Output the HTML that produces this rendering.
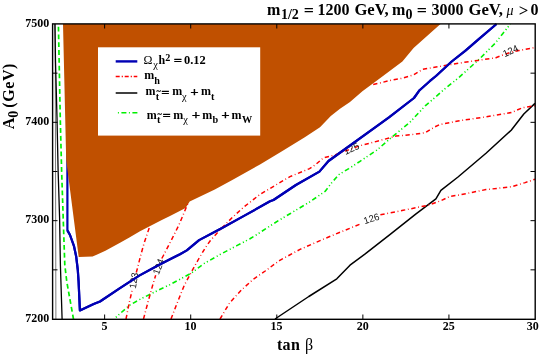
<!DOCTYPE html>
<html><head><meta charset="utf-8"><title>plot</title>
<style>
html,body{margin:0;padding:0;background:#fff;}
svg{display:block;will-change:transform;}
text{font-family:"Liberation Serif",serif;font-weight:bold;fill:#000;}
.n{font-weight:normal;}
.s{font-family:"Liberation Sans",sans-serif;font-weight:normal;font-size:9.6px;fill:#111;}
</style></head><body>
<svg width="540" height="357" viewBox="0 0 540 357">
<rect width="540" height="357" fill="#fff"/>
<!-- blue under brown -->
<path d="M67.4,150.0 L67.4,230.4 L70.0,235.0 L73.9,245.8 L76.2,256.6 L77.8,270.0 L78.6,281.8 L79.9,310.4 L93.7,304.0 L100.0,301.5 L119.6,288.3 L139.2,275.6 L158.8,265.0 L170.0,259.2 L180.0,254.2 L186.8,250.4 L199.1,240.1 L221.6,228.2 L244.0,215.9 L270.0,201.3 L273.5,200.0 L295.9,185.0 L319.4,171.6 L328.5,161.0 L380.0,123.9 L389.3,117.1 L414.0,98.0 L419.6,90.2 L429.7,81.2 L436.0,76.0 L451.7,61.5 L465.2,50.8 L477.9,39.9 L496.5,24.0" fill="none" stroke="#0000b4" stroke-width="2.2" stroke-linejoin="round"/>
<path d="M63.0,24.0 L440.5,24.0 L424.8,37.9 L413.6,48.0 L402.4,61.5 L380.0,78.3 L362.4,91.3 L350.0,102.0 L340.0,108.8 L330.8,115.9 L320.0,127.3 L304.8,137.3 L282.4,151.0 L260.0,164.4 L232.3,180.0 L214.8,189.4 L189.7,201.5 L185.6,207.9 L170.0,215.9 L161.8,220.0 L140.0,231.3 L129.4,237.6 L120.5,242.4 L105.4,250.8 L92.6,256.6 L78.7,257.0 L66.2,160.0Z" fill="#c05000"/>
<!-- legend box -->
<rect x="98.0" y="47.3" width="162.2" height="88.3" fill="#fff"/>
<!-- thin line near left -->
<path d="M55.2,24 L55.9,319" stroke="#444" stroke-width="0.7" fill="none"/>
<path d="M54.9,24.0 L55.5,62.0 L57.0,118.0 L58.1,170.0 L59.6,218.0 L60.4,265.0 L62.1,319.0" fill="none" stroke="#000" stroke-width="1.3"/>
<path d="M275.0,319.0 L308.8,296.5 L336.8,278.8 L350.0,265.2 L365.2,253.9 L390.5,234.2 L415.7,214.1 L435.9,198.9 L440.9,190.4 L458.0,177.0 L486.0,153.2 L511.2,130.2 L523.8,114.0 L535.0,103.4" fill="none" stroke="#000" stroke-width="1.5" stroke-linejoin="round"/>
<path d="M58.4,24.0 L60.3,120.0 L61.6,170.0 L63.2,218.0 L64.8,265.0 L66.8,281.8 L69.8,298.6 L73.5,319.0" fill="none" stroke="#00f000" stroke-width="1.7" stroke-dasharray="4.8 3.0" stroke-dashoffset="5.1"/>
<path d="M114.0,319.0 L129.4,305.3 L139.2,299.7 L158.8,289.9 L170.0,284.6 L180.0,279.3 L191.8,272.8 L203.6,263.8 L220.4,254.3 L237.3,245.4 L250.0,238.8 L259.7,232.7 L270.0,226.0 L279.4,220.0 L290.0,213.7 L309.6,202.0 L325.3,191.2 L331.2,183.3 L339.0,174.5 L348.8,168.6 L360.0,161.3 L377.0,150.0 L391.6,137.3 L409.5,122.7 L425.2,105.9 L432.7,99.5 L443.9,89.6 L459.6,76.9 L479.2,59.2 L494.9,43.5 L502.7,33.7 L510.4,24.0" fill="none" stroke="#00f000" stroke-width="1.6" stroke-dasharray="4.8 2.7 1.1 2.4 1.1 2.7" stroke-dashoffset="5"/>
<g fill="none" stroke="#ff0000" stroke-width="1.5" stroke-dasharray="4.3 2.7 0.8 2.7">
<path d="M126.0,319.0 L129.4,302.0 L132.2,290.0"/>
<path d="M143.5,319.0 L148.0,302.0 L152.9,284.4 L155.7,275.2"/>
<path d="M171.0,319.0 L177.1,303.1 L184.3,285.2 L191.4,272.1 L198.6,259.0 L205.7,247.1 L210.4,240.5 L221.6,228.2 L232.8,217.0 L244.0,206.9 L259.7,194.6 L270.0,188.5 L290.0,176.6 L309.6,168.6 L315.5,164.7 L323.5,157.8 L335.1,155.0 L343.5,151.6 L351.5,148.8 L359.5,145.8 L373.6,142.2 L396.0,136.1 L414.0,134.3 L425.2,132.8 L434.2,127.2 L440.0,124.5 L458.0,121.0 L486.0,116.8 L511.2,112.6 L522.4,107.8 L535.0,105.6"/>
<path d="M220.0,319.0 L229.5,303.1 L241.4,290.0 L253.3,279.3 L265.2,271.0 L279.4,260.6 L300.0,249.4 L323.5,239.1 L341.2,231.8 L359.6,224.3"/>
<path d="M373.2,84.6 L391.6,80.1 L402.4,78.3 L413.6,74.9 L422.6,69.3 L436.0,67.1 L451.7,64.4 L469.7,61.5 L477.9,60.4 L495.9,57.7 L502.0,55.3 L510.5,52.3 L519.0,50.6 L531.7,48.2 L535.0,47.5"/>
<path d="M136.3,272.5 L137.3,268.7 L140.8,255.0 L144.0,243.5 L149.4,227.4"/>
<path d="M161.8,258.5 L163.7,255.0 L170.0,242.8 L179.0,224.8 L187.9,203.5"/>
<path d="M380.4,214.8 L403.1,210.3 L428.3,205.2 L440.9,200.7 L450.0,196.4 L458.0,195.2 L486.0,189.6 L511.2,186.8 L525.2,182.6 L535.0,179.2"/>

</g>
<!-- contour labels -->
<g class="lab">
<text class="s" text-anchor="middle" transform="translate(133.7,280.5) rotate(-80)" y="3.4">123</text>
<text class="s" text-anchor="middle" transform="translate(158.4,266.6) rotate(-70)" y="3.4">124</text>
<text class="s" text-anchor="middle" transform="translate(351.3,148.5) rotate(-25)" y="3.4">125</text>
<text class="s" text-anchor="middle" transform="translate(371.4,218.5) rotate(-18)" y="3.4">126</text>
<text class="s" text-anchor="middle" transform="translate(510.5,50.7) rotate(-25)" y="3.4">124</text>
</g>
<path d="M67.4,230.4 L70.0,235.0 L73.9,245.8 L76.2,256.6 L77.8,270.0 L78.6,281.8 L79.9,310.4 L93.7,304.0 L100.0,301.5 L119.6,288.3 L139.2,275.6 L158.8,265.0 L170.0,259.2 L180.0,254.2 L186.8,250.4 L199.1,240.1 L221.6,228.2 L244.0,215.9 L270.0,201.3 L273.5,200.0 L295.9,185.0 L319.4,171.6 L328.5,161.0 L380.0,123.9 L389.3,117.1 L414.0,98.0 L419.6,90.2 L429.7,81.2 L436.0,76.0 L451.7,61.5 L465.2,50.8 L477.9,39.9 L496.5,24.0" fill="none" stroke="#0000b4" stroke-width="2.2" stroke-linejoin="round"/>
<!-- frame & ticks -->
<path d="M104.64,24 v4.5 M104.64,319 v-4.5 M190.71,24 v4.5 M190.71,319 v-4.5 M276.79,24 v4.5 M276.79,319 v-4.5 M362.86,24 v4.5 M362.86,319 v-4.5 M448.93,24 v4.5 M448.93,319 v-4.5 M53,269.83 h4.5 M535,269.83 h-4.5 M53,220.67 h4.5 M535,220.67 h-4.5 M53,171.50 h4.5 M535,171.50 h-4.5 M53,122.33 h4.5 M535,122.33 h-4.5 M53,73.17 h4.5 M535,73.17 h-4.5" stroke="#000" stroke-width="1" fill="none"/>
<rect x="52.6" y="23.9" width="482.6" height="295.4" fill="none" stroke="#000" stroke-width="1.4"/>
<!-- tick labels -->
<g font-size="12">
<text x="49.3" y="321.7" text-anchor="end">7200</text>
<text x="49.3" y="223.4" text-anchor="end">7300</text>
<text x="49.3" y="125.0" text-anchor="end">7400</text>
<text x="49.3" y="26.7" text-anchor="end">7500</text>
<text x="104.4" y="330.2" text-anchor="middle">5</text>
<text x="190.5" y="330.2" text-anchor="middle">10</text>
<text x="276.6" y="330.2" text-anchor="middle">15</text>
<text x="362.7" y="330.2" text-anchor="middle">20</text>
<text x="448.7" y="330.2" text-anchor="middle">25</text>
<text x="532.8" y="330.2" text-anchor="middle">30</text>
</g>
<!-- axis labels -->
<g font-size="16">
<text x="277" y="350.2" textLength="22.8" lengthAdjust="spacing">tan</text><text class="n" x="305" y="350.2">β</text>
<g transform="translate(13.8,0) rotate(-90)"><text x="-129.3" y="0">A</text><text x="-117.8" y="3.8" font-size="14">0</text><text x="-107.8" y="0" textLength="44.2" lengthAdjust="spacing">(GeV)</text></g>
</g>
<!-- title -->
<g font-size="16">
<text x="267" y="14.8">m</text>
<text x="280.9" y="18.5" font-size="14">1/2</text>
<text x="303.8" y="16.1" textLength="10.2" lengthAdjust="spacingAndGlyphs">=</text>
<text x="317.6" y="14.8">1200</text>
<text x="354.4" y="14.8" textLength="34.4" lengthAdjust="spacingAndGlyphs">GeV,</text>
<text x="392.0" y="14.8">m</text>
<text x="405.5" y="18.5" font-size="14">0</text>
<text x="416.7" y="16.1" textLength="10.2" lengthAdjust="spacingAndGlyphs">=</text>
<text x="431.6" y="14.8">3000</text>
<text x="468.5" y="14.8" textLength="34.4" lengthAdjust="spacingAndGlyphs">GeV,</text>
<text x="506.5" y="14.8" font-size="14" class="n" font-style="italic">μ</text>
<text x="518.8" y="16.2" textLength="9.6" lengthAdjust="spacingAndGlyphs">&gt;</text>
<text x="530.6" y="14.8">0</text>
</g>
<!-- legend -->
<path d="M115.7,61.4 H137.3" stroke="#0000b4" stroke-width="2.4"/>
<path d="M115.7,76.6 H137.3" stroke="#ff0000" stroke-width="1.5" stroke-dasharray="4 2 1.2 1.8"/>
<path d="M115.7,93.0 H137.3" stroke="#000" stroke-width="1.5"/>
<path d="M117.9,112.8 H139.2" stroke="#00f000" stroke-width="1.5" stroke-dasharray="1 2.5 5 2.5" />
<g font-size="12">
<text x="143.6" y="63.8" class="n">Ω</text>
<text x="153.2" y="68.0" font-size="10.4" class="n">χ</text>
<text x="158.6" y="63.8">h</text>
<text x="165.3" y="61.1" font-size="10.2">2</text>
<text x="173.8" y="65.2" stroke="#000" stroke-width="0.3" textLength="8.3" lengthAdjust="spacingAndGlyphs">=</text>
<text x="184.0" y="63.8" textLength="21.8" lengthAdjust="spacingAndGlyphs">0.12</text>
<text x="144.3" y="79.0">m</text>
<text x="154.3" y="83.5" font-size="10.2">h</text>
<text x="145.6" y="95.4">m</text>
<text x="155.7" y="99.9" font-size="10.2">t</text>
<text x="156.4" y="93.5" font-size="8" stroke="#000" stroke-width="0.25">~</text>
<text x="161.2" y="96.9" stroke="#000" stroke-width="0.3" textLength="8.3" lengthAdjust="spacingAndGlyphs">=</text>
<text x="172.3" y="95.4">m</text>
<text x="182.0" y="99.6" font-size="10.4" class="n">χ</text>
<text x="190.3" y="96.2" stroke="#000" stroke-width="0.3" textLength="8.4" lengthAdjust="spacingAndGlyphs">+</text>
<text x="201.1" y="95.4">m</text>
<text x="211.0" y="99.9" font-size="10.2">t</text>
<text x="146.8" y="118.5">m</text>
<text x="156.9" y="123.0" font-size="10.2">t</text>
<text x="157.6" y="116.6" font-size="8" stroke="#000" stroke-width="0.25">~</text>
<text x="162.4" y="120.0" stroke="#000" stroke-width="0.3" textLength="8.3" lengthAdjust="spacingAndGlyphs">=</text>
<text x="173.3" y="118.5">m</text>
<text x="183.2" y="122.7" font-size="10.4" class="n">χ</text>
<text x="191.7" y="119.3" stroke="#000" stroke-width="0.3" textLength="8.4" lengthAdjust="spacingAndGlyphs">+</text>
<text x="202.3" y="118.5">m</text>
<text x="212.5" y="123.0" font-size="10.2">b</text>
<text x="221.3" y="119.3" stroke="#000" stroke-width="0.3" textLength="8.4" lengthAdjust="spacingAndGlyphs">+</text>
<text x="231.5" y="118.5">m</text>
<text x="241.9" y="123.0" font-size="10.2">W</text>
</g>
</svg>
</body></html>
